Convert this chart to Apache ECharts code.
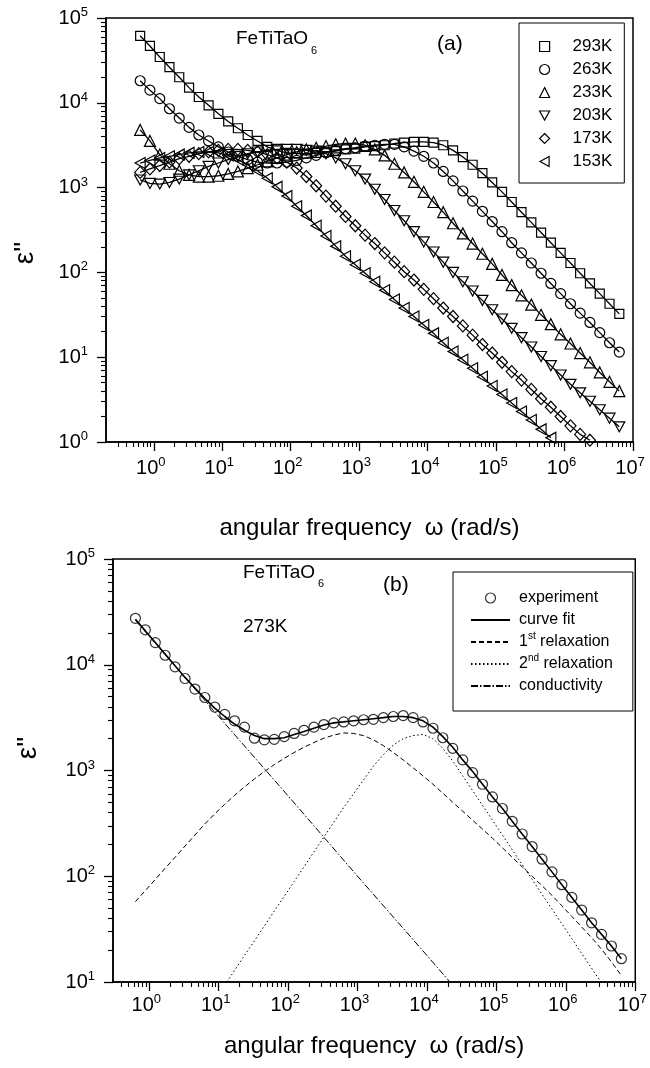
<!DOCTYPE html>
<html>
<head>
<meta charset="utf-8">
<script src="https://cdn.jsdelivr.net/npm/echarts@6/dist/echarts.min.js"></script>
<style>
html, body { margin: 0; padding: 0; background: #fff; }
#main { width: 650px; height: 1068px; }
</style>
</head>
<body>
<div id="main"></div>
<script>
// angular frequency grid (rad/s), 7 points per decade
var freq = [0.631, 0.877, 1.22, 1.69, 2.35, 3.27, 4.54, 6.31, 8.77, 12.2,
    16.9, 23.5, 32.7, 45.4, 63.1, 87.7, 122, 169, 235, 327,
    454, 631, 877, 1220, 1690, 2350, 3270, 4540, 6310, 8770,
    12200, 16900, 23500, 32700, 45400, 63100, 87700, 122000, 169000, 235000,
    327000, 454000, 631000, 877000, 1220000, 1690000, 2350000, 3270000, 4540000, 6310000];

// panel (a): eps'' for each temperature
var eps293K = [61700, 46800, 34700, 26300, 20000, 15100, 11700, 9330, 7410, 6030,
    5010, 4170, 3550, 3020, 2750, 2570, 2510, 2510, 2570, 2630,
    2690, 2820, 2880, 3020, 3090, 3160, 3310, 3390, 3470, 3470,
    3390, 3160, 2750, 2290, 1860, 1480, 1150, 891, 676, 513,
    389, 295, 224, 170, 129, 97.7, 74.1, 56.2, 42.7, 32.4];
var eps263K = [18200, 14100, 11200, 8510, 6610, 5130, 4170, 3550, 3020, 2630,
    2340, 2140, 2000, 1950, 1950, 2000, 2090, 2240, 2400, 2570,
    2750, 2880, 2950, 3090, 3160, 3240, 3240, 3020, 2690, 2340,
    1950, 1550, 1200, 912, 692, 525, 398, 302, 224, 170,
    129, 97.7, 74.1, 56.2, 42.7, 33.1, 25.7, 19.5, 14.8, 11.5];
var eps233K = [4790, 3550, 2450, 1910, 1580, 1410, 1350, 1350, 1380, 1450,
    1550, 1700, 1860, 2040, 2240, 2450, 2630, 2820, 2950, 3090,
    3240, 3310, 3310, 3160, 2820, 2400, 1910, 1510, 1170, 891,
    676, 513, 380, 288, 219, 166, 126, 93.3, 70.8, 53.7,
    41.7, 31.6, 24.5, 18.6, 14.5, 11.2, 8.71, 6.61, 5.13, 3.98];
var eps203K = [1230, 1120, 1100, 1150, 1260, 1410, 1580, 1780, 1950, 2140,
    2340, 2510, 2630, 2750, 2820, 2820, 2820, 2750, 2690, 2510,
    2240, 1910, 1580, 1260, 955, 724, 537, 407, 302, 229,
    174, 132, 100, 77.6, 60.3, 46.8, 36.3, 28.2, 21.9, 17.0,
    13.2, 10.2, 7.94, 6.17, 4.79, 3.80, 3.02, 2.40, 1.91, 1.51];
var eps173K = [1510, 1660, 1820, 2000, 2190, 2340, 2510, 2630, 2750, 2820,
    2820, 2750, 2630, 2450, 2240, 2000, 1700, 1350, 1050, 794,
    603, 457, 355, 275, 219, 170, 132, 102, 81.3, 63.1,
    49.0, 38.0, 30.2, 23.4, 18.2, 14.1, 11.2, 8.71, 6.76, 5.37,
    4.17, 3.24, 2.57, 2.00, 1.55, 1.23, 1.05];
var eps153K = [1950, 2090, 2240, 2340, 2450, 2570, 2630, 2630, 2570, 2400,
    2140, 1860, 1580, 1290, 1020, 794, 603, 468, 355, 269,
    204, 155, 123, 97.7, 77.6, 61.7, 47.9, 38.0, 30.2, 24.0,
    19.1, 14.8, 11.7, 9.33, 7.41, 5.89, 4.57, 3.63, 2.88, 2.29,
    1.82, 1.41, 1.12];

// panel (b): 273K measurement and fit components
var exp273K = [27500, 21400, 16200, 12300, 9550, 7410, 5890, 4900, 3980, 3390,
    2950, 2570, 2020, 1950, 1970, 2090, 2240, 2400, 2570, 2720,
    2820, 2880, 2950, 3020, 3050, 3160, 3240, 3310, 3160, 2880,
    2510, 2040, 1620, 1260, 955, 741, 562, 437, 331, 251,
    191, 145, 110, 83.2, 63.1, 47.9, 36.3, 28.2, 21.9, 16.6];
var fit273K = [26900, 20900, 16200, 12600, 9770, 7590, 6030, 4790, 3890, 3240,
    2750, 2400, 2140, 2000, 2000, 2040, 2190, 2340, 2510, 2690,
    2820, 2880, 2950, 3020, 3090, 3160, 3240, 3240, 3160, 2950,
    2570, 2090, 1660, 1260, 977, 741, 562, 437, 331, 251,
    191, 145, 110, 83.2, 63.1, 47.9, 36.3, 28.2, 21.9, 16.6];
var relax1 = [57.5, 73.3, 93.3, 119, 151, 193, 245, 313, 389, 479,
    582, 700, 832, 977, 1135, 1303, 1479, 1660, 1841, 2018,
    2163, 2265, 2239, 2138, 1950, 1718, 1479, 1259, 1059, 891,
    741, 610, 501, 412, 339, 279, 229, 186, 151, 123,
    100, 81.3, 66.1, 52.5, 41.7, 33.1, 26.3, 20.4, 15.5, 11.5];
// starts at freq[9]
var relax2 = [9.33, 12.9, 17.8, 24.5, 33.9, 46.8, 64.6, 89.1, 123, 170,
    234, 324, 447, 603, 813, 1100, 1410, 1740, 2000, 2140,
    2190, 2000, 1620, 1230, 891, 646, 468, 339, 245, 178,
    129, 93.3, 67.6, 49.0, 35.5, 25.7, 18.6, 13.5, 9.77, 7.08];
var condFreq = [0.631, 1, 10, 100, 1000, 10000, 21400];
var condEps = [26300, 18600, 3240, 575, 100, 17.8, 10];

// tick labels
var xDecades = [1, 10, 100, 1e3, 1e4, 1e5, 1e6, 1e7];
var yDecadesA = [1, 10, 100, 1e3, 1e4, 1e5];
var yDecadesB = [10, 100, 1e3, 1e4, 1e5];

var FONT = '"Liberation Sans", Arial, sans-serif';
var downTri = 'path://M0,0L10,0L5,9Z';
var leftTri = 'path://M9,0L9,10L0,5Z';

function pairs(xs, ys, start) {
    start = start || 0;
    return ys.map(function (y, i) { return [xs[i + start], y]; });
}

function minors(lo, hi) {
    // 2..9 inside each decade, between lo and hi
    var out = [];
    for (var d = 0.1; d < hi; d *= 10) {
        for (var m = 2; m <= 9; m++) {
            var v = parseFloat((d * m).toPrecision(6));
            if (v > lo && v < hi) out.push(v);
        }
    }
    return out;
}

function pow10(v) {
    var e = Math.round(Math.log10(v));
    return '{b|10}{s|' + e + '}';
}

var labelRich = {
    b: { fontSize: 20, lineHeight: 24, fontFamily: FONT, color: '#000' },
    s: { fontSize: 13, lineHeight: 12, verticalAlign: 'top', fontFamily: FONT, color: '#000' }
};

function mainAxis(grid, ticks, min, max, isX, margin, name, gap) {
    var ax = {
        type: 'log', gridIndex: grid, min: min, max: max, logBase: 10,
        position: isX ? 'bottom' : 'left',
        axisLine: { show: true, lineStyle: { color: '#000', width: 1.5 } },
        axisTick: { show: true, inside: false, length: 9, customValues: ticks, lineStyle: { color: '#000', width: 1.3 } },
        axisLabel: {
            margin: margin, customValues: ticks, formatter: pow10, rich: labelRich,
            padding: isX ? [0, 6, 0, 0] : 0,
            fontSize: 20, fontFamily: FONT, color: '#000'
        },
        splitLine: { show: false },
        minorTick: { show: false }
    };
    if (name) {
        ax.name = name;
        ax.nameLocation = 'middle';
        ax.nameGap = gap;
        ax.nameTextStyle = { fontSize: 24, fontFamily: FONT, color: '#000' };
    }
    return ax;
}

function minorAxis(grid, min, max, isX) {
    return {
        type: 'log', gridIndex: grid, min: min, max: max, logBase: 10,
        position: isX ? 'bottom' : 'left', offset: 0,
        axisLine: { show: false },
        axisTick: { show: true, inside: false, length: 5, customValues: minors(min, max), lineStyle: { color: '#000', width: 1.1 } },
        axisLabel: { show: false },
        splitLine: { show: false }
    };
}

function markerSeries(name, data, symbol, size) {
    return {
        name: name, type: 'line', xAxisIndex: 0, yAxisIndex: 0,
        data: pairs(freq, data), symbol: symbol, symbolSize: size,
        showAllSymbol: true, clip: true, silent: true,
        lineStyle: { color: '#000', width: 1.3 },
        itemStyle: { color: 'transparent', borderColor: '#000', borderWidth: 1.2 }
    };
}

function curveSeries(name, data, type, width) {
    return {
        name: name, type: 'line', xAxisIndex: 2, yAxisIndex: 2,
        data: data, symbol: 'none', clip: true, silent: true,
        lineStyle: { color: '#000', width: width, type: type },
        itemStyle: { color: '#000' }
    };
}

// legend entry for a plain line: hide the circle the line legend draws
var noMark = { color: 'transparent', borderWidth: 0, opacity: 0 };

var myChart = echarts.init(document.getElementById('main'), null, { renderer: 'canvas' });
var option = {
    animation: false,
    backgroundColor: '#fff',
    textStyle: { fontFamily: FONT, color: '#000' },
    grid: [
        { left: 106, top: 18, width: 527, height: 424, show: true, borderColor: '#000', borderWidth: 1.5 },
        { left: 113, top: 559, width: 527, height: 423, show: true, borderColor: '#000', borderWidth: 1.5 }
    ],
    xAxis: [
        mainAxis(0, xDecades, 0.2, 1e7, true, 14, 'angular frequency  \u03c9 (rad/s)', 74),
        minorAxis(0, 0.2, 1e7, true),
        mainAxis(1, xDecades, 0.3, 1e7, true, 11, 'angular frequency  \u03c9 (rad/s)', 52),
        minorAxis(1, 0.3, 1e7, true)
    ],
    yAxis: [
        mainAxis(0, yDecadesA, 1, 1e5, false, 18),
        minorAxis(0, 1, 1e5, false),
        mainAxis(1, yDecadesB, 10, 1e5, false, 18),
        minorAxis(1, 10, 1e5, false)
    ],
    legend: [
        {
            orient: 'vertical', left: 519, top: 23,
            padding: [12, 12, 10, 20], itemGap: 0,
            itemWidth: 10, itemHeight: 10,
            backgroundColor: '#fff', borderColor: '#000', borderWidth: 1,
            selectedMode: false,
            itemStyle: { color: 'transparent', borderColor: '#000', borderWidth: 1.2 },
            textStyle: { fontSize: 17, lineHeight: 23, padding: [0, 0, 0, 18], fontFamily: FONT, color: '#000' },
            data: [
                { name: '293K', icon: 'rect' },
                { name: '263K', icon: 'circle' },
                { name: '233K', icon: 'triangle' },
                { name: '203K', icon: downTri },
                { name: '173K', icon: 'diamond' },
                { name: '153K', icon: leftTri }
            ]
        },
        {
            orient: 'vertical', left: 453, top: 572,
            padding: [15, 20, 14, 17], itemGap: 0,
            itemWidth: 39, itemHeight: 10,
            backgroundColor: '#fff', borderColor: '#000', borderWidth: 1,
            selectedMode: false,
            itemStyle: { color: 'transparent', borderColor: '#000', borderWidth: 1.2 },
            textStyle: {
                fontSize: 16, lineHeight: 22, padding: [0, 0, 0, 4], fontFamily: FONT, color: '#000',
                rich: { s: { fontSize: 10, lineHeight: 14, verticalAlign: 'top', fontFamily: FONT, color: '#000' } }
            },
            formatter: function (name) {
                if (name === '1st relaxation') return '1{s|st} relaxation';
                if (name === '2nd relaxation') return '2{s|nd} relaxation';
                return name;
            },
            data: [
                { name: 'experiment', icon: 'circle' },
                { name: 'curve fit', itemStyle: noMark },
                { name: '1st relaxation', itemStyle: noMark },
                { name: '2nd relaxation', itemStyle: noMark },
                { name: 'conductivity', itemStyle: noMark }
            ]
        }
    ],
    graphic: [
        { type: 'text', x: 236, y: 39, style: { text: 'FeTiTaO', fontSize: 19, fontFamily: FONT, fill: '#000', align: 'left', verticalAlign: 'middle' } },
        { type: 'text', x: 311, y: 51, style: { text: '6', fontSize: 11, fontFamily: FONT, fill: '#000', align: 'left', verticalAlign: 'middle' } },
        { type: 'text', x: 437, y: 44, style: { text: '(a)', fontSize: 21, fontFamily: FONT, fill: '#000', align: 'left', verticalAlign: 'middle' } },
        { type: 'text', x: 25, y: 253, rotation: Math.PI / 2, style: { text: '\u03b5"', fontSize: 28, fontFamily: FONT, fill: '#000', align: 'center', verticalAlign: 'middle' } },
        { type: 'text', x: 243, y: 573, style: { text: 'FeTiTaO', fontSize: 19, fontFamily: FONT, fill: '#000', align: 'left', verticalAlign: 'middle' } },
        { type: 'text', x: 318, y: 584, style: { text: '6', fontSize: 11, fontFamily: FONT, fill: '#000', align: 'left', verticalAlign: 'middle' } },
        { type: 'text', x: 243, y: 627, style: { text: '273K', fontSize: 19, fontFamily: FONT, fill: '#000', align: 'left', verticalAlign: 'middle' } },
        { type: 'text', x: 383, y: 585, style: { text: '(b)', fontSize: 21, fontFamily: FONT, fill: '#000', align: 'left', verticalAlign: 'middle' } },
        { type: 'text', x: 28, y: 748, rotation: Math.PI / 2, style: { text: '\u03b5"', fontSize: 28, fontFamily: FONT, fill: '#000', align: 'center', verticalAlign: 'middle' } }
    ],
    series: [
        markerSeries('293K', eps293K, 'rect', 9),
        markerSeries('263K', eps263K, 'circle', 10),
        markerSeries('233K', eps233K, 'triangle', 11),
        markerSeries('203K', eps203K, downTri, [11, 10]),
        markerSeries('173K', eps173K, 'diamond', [11, 12]),
        markerSeries('153K', eps153K, leftTri, [10, 11]),
        curveSeries('1st relaxation', pairs(freq, relax1), [5, 3], 1),
        curveSeries('2nd relaxation', pairs(freq, relax2, 9), [1.5, 2.5], 1),
        curveSeries('conductivity', pairs(condFreq, condEps), [7, 2, 1.5, 2], 1),
        curveSeries('curve fit', pairs(freq, fit273K), 'solid', 1.6),
        {
            name: 'experiment', type: 'scatter', xAxisIndex: 2, yAxisIndex: 2,
            data: pairs(freq, exp273K), symbol: 'circle', symbolSize: 10,
            clip: true, silent: true,
            itemStyle: { color: 'transparent', borderColor: '#000', borderWidth: 1.2 }
        }
    ]
};
myChart.setOption(option);
</script>
</body>
</html>
